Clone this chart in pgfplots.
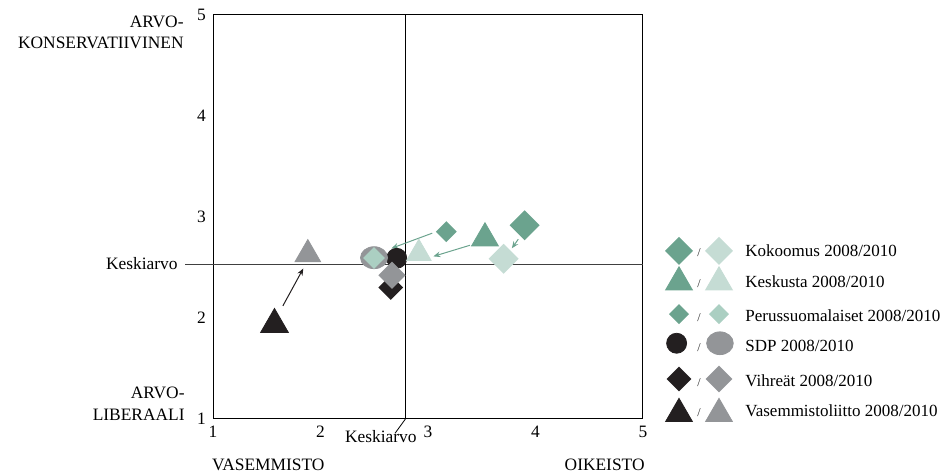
\documentclass[border=0pt]{standalone}
\usepackage{fontspec}
\setmainfont{Liberation Serif}
\usepackage{pgfplots}
\pgfplotsset{compat=1.18}
\usetikzlibrary{arrows.meta}
\definecolor{tdark}{HTML}{6BA38E}
\definecolor{tlight}{HTML}{C5DCD4}
\definecolor{plight}{HTML}{ABCFC2}
\definecolor{mgray}{HTML}{939598}
\definecolor{mblack}{HTML}{231F20}
\pgfdeclareplotmark{rdia}{%
  \pgfpathmoveto{\pgfqpoint{0pt}{\pgfplotmarksize}}%
  \pgfpathlineto{\pgfqpoint{\pgfplotmarksize}{0pt}}%
  \pgfpathlineto{\pgfqpoint{0pt}{-\pgfplotmarksize}}%
  \pgfpathlineto{\pgfqpoint{-\pgfplotmarksize}{0pt}}%
  \pgfpathclose
  \pgfusepathqfill
}
\newcommand{\TF}{\fontsize{8.7}{10.4}\selectfont}
\newcommand{\LF}{\fontsize{8.5}{10}\selectfont}
\pgfplotsset{
  dia/.style 2 args={forget plot, only marks, mark=rdia, mark size=#2, color=#1, fill=#1, mark options={rounded corners=1.2pt}},
  tri/.style 2 args={forget plot, only marks, mark=triangle*, mark size=#2, color=#1, fill=#1},
  circ/.style 2 args={forget plot, only marks, mark=*, mark size=#2, color=#1, fill=#1},
  arr/.style={forget plot, line width=0.5pt, -{Stealth[length=3.5pt,width=2.8pt]}},
}
\tikzset{legtxt/.style={anchor=base west, font=\LF, inner sep=0pt},
  legsl/.style={anchor=base, font=\fontsize{6}{6}\selectfont, text=black!85, inner sep=0pt}}
\begin{document}
\begin{tikzpicture}
\begin{axis}[
  at={(106.5pt,28pt)}, anchor=south west,
  scale only axis, width=215pt, height=202pt,
  xmin=1, xmax=5, ymin=1, ymax=5,
  xtick={1,2,3,4,5}, ytick={1,2,3,4,5},
  major tick length=0pt,
  clip=false,
  axis line style={line width=0.5pt, black},
  /pgf/number format/assume math mode=true,
  ticklabel style={font=\TF},
]
% mean lines
\addplot[forget plot, black!75, line width=0.6pt] coordinates {(0.74,2.53) (5,2.53)};
\addplot[forget plot, black, line width=0.5pt] coordinates {(2.79,1) (2.79,5)};
\addplot[forget plot, black, line width=0.4pt] coordinates {(2.79,1) (2.693,0.858)};
% arrows
\addplot[arr, mblack] coordinates {(1.65,2.12) (1.84,2.49)};
\addplot[arr, tdark] coordinates {(3.04,2.84) (2.66,2.69)};
\addplot[arr, tdark] coordinates {(3.39,2.72) (3.05,2.61)};
\addplot[arr, tdark] coordinates {(3.84,2.78) (3.78,2.69)};
% 2008 black
\addplot[circ={mblack}{5pt}] coordinates {(2.709,2.591)};
\addplot[dia={mblack}{6.2pt}] coordinates {(2.654,2.302)};
\addplot[tri={mblack}{8pt}] coordinates {(1.572,1.936)};
% 2010 gray
\addplot[circ={mgray}{5.5pt}, mark options={xscale=1.23}] coordinates {(2.498,2.597)};
\addplot[dia={mgray}{6.8pt}] coordinates {(2.665,2.423)};
\addplot[tri={mgray}{7.4pt}] coordinates {(1.882,2.63)};
% teal 2008
\addplot[dia={tdark}{7.5pt}, mark options={rounded corners=1.5pt}] coordinates {(3.898,2.918)};
\addplot[tri={tdark}{7.75pt}] coordinates {(3.530,2.790)};
\addplot[dia={tdark}{5.2pt}] coordinates {(3.170,2.855)};
% teal 2010
\addplot[dia={tlight}{7.5pt}, mark options={rounded corners=1.5pt}] coordinates {(3.704,2.586)};
\addplot[tri={tlight}{7.05pt}] coordinates {(2.915,2.640)};
\addplot[dia={plight}{5.4pt}] coordinates {(2.498,2.594)};
% legend symbols (2008 / 2010)
\addplot[dia={tdark}{7pt}, mark options={rounded corners=1.5pt}] coordinates {(5.335,2.665)};
\addplot[dia={tlight}{7pt}, mark options={rounded corners=1.5pt}] coordinates {(5.707,2.665)};
\addplot[tri={tdark}{7.75pt}] coordinates {(5.335,2.354)};
\addplot[tri={tlight}{7.75pt}] coordinates {(5.707,2.354)};
\addplot[dia={tdark}{5pt}] coordinates {(5.335,2.038)};
\addplot[dia={plight}{5pt}] coordinates {(5.707,2.038)};
\addplot[circ={mblack}{5pt}] coordinates {(5.313,1.750)};
\addplot[circ={mgray}{5.7pt}, mark options={xscale=1.17}] coordinates {(5.716,1.750)};
\addplot[dia={mblack}{6.2pt}] coordinates {(5.335,1.396)};
\addplot[dia={mgray}{6.7pt}] coordinates {(5.707,1.396)};
\addplot[tri={mblack}{7.75pt}] coordinates {(5.335,1.051)};
\addplot[tri={mgray}{7.75pt}] coordinates {(5.707,1.051)};
\node[legtxt] at (axis cs:5.949,2.604) {Kokoomus 2008/2010};
\node[legtxt] at (axis cs:5.949,2.304) {Keskusta 2008/2010};
\node[legtxt] at (axis cs:5.949,1.963) {Perussuomalaiset 2008/2010};
\node[legtxt] at (axis cs:5.949,1.666) {SDP 2008/2010};
\node[legtxt] at (axis cs:5.949,1.320) {Vihreät 2008/2010};
\node[legtxt] at (axis cs:5.949,1.023) {Vasemmistoliitto 2008/2010};
\node[legsl] at (axis cs:5.521,2.604) {/};
\node[legsl] at (axis cs:5.521,2.304) {/};
\node[legsl] at (axis cs:5.521,1.963) {/};
\node[legsl] at (axis cs:5.521,1.666) {/};
\node[legsl] at (axis cs:5.521,1.320) {/};
\node[legsl] at (axis cs:5.521,1.023) {/};
\end{axis}
\begin{scope}[every node/.style={font=\TF, inner sep=0pt}]
\node[anchor=base east] at (92pt,223.5pt) {ARVO-};
\node[anchor=base east] at (92pt,213pt) {KONSERVATIIVINEN};
\node[anchor=base east] at (92.5pt,38pt) {ARVO-};
\node[anchor=base east] at (92.5pt,27pt) {LIBERAALI};
\node[anchor=base west] at (105.8pt,2pt) {VASEMMISTO};
\node[anchor=base east] at (322.5pt,2pt) {OIKEISTO};
\node[anchor=base east] at (89pt,102.5pt) {Keskiarvo};
\node[anchor=base east] at (208.5pt,16pt) {Keskiarvo};
\end{scope}
\pgfresetboundingbox
\path[use as bounding box] (0,0) rectangle (472pt,237.5pt);
\end{tikzpicture}
\end{document}
